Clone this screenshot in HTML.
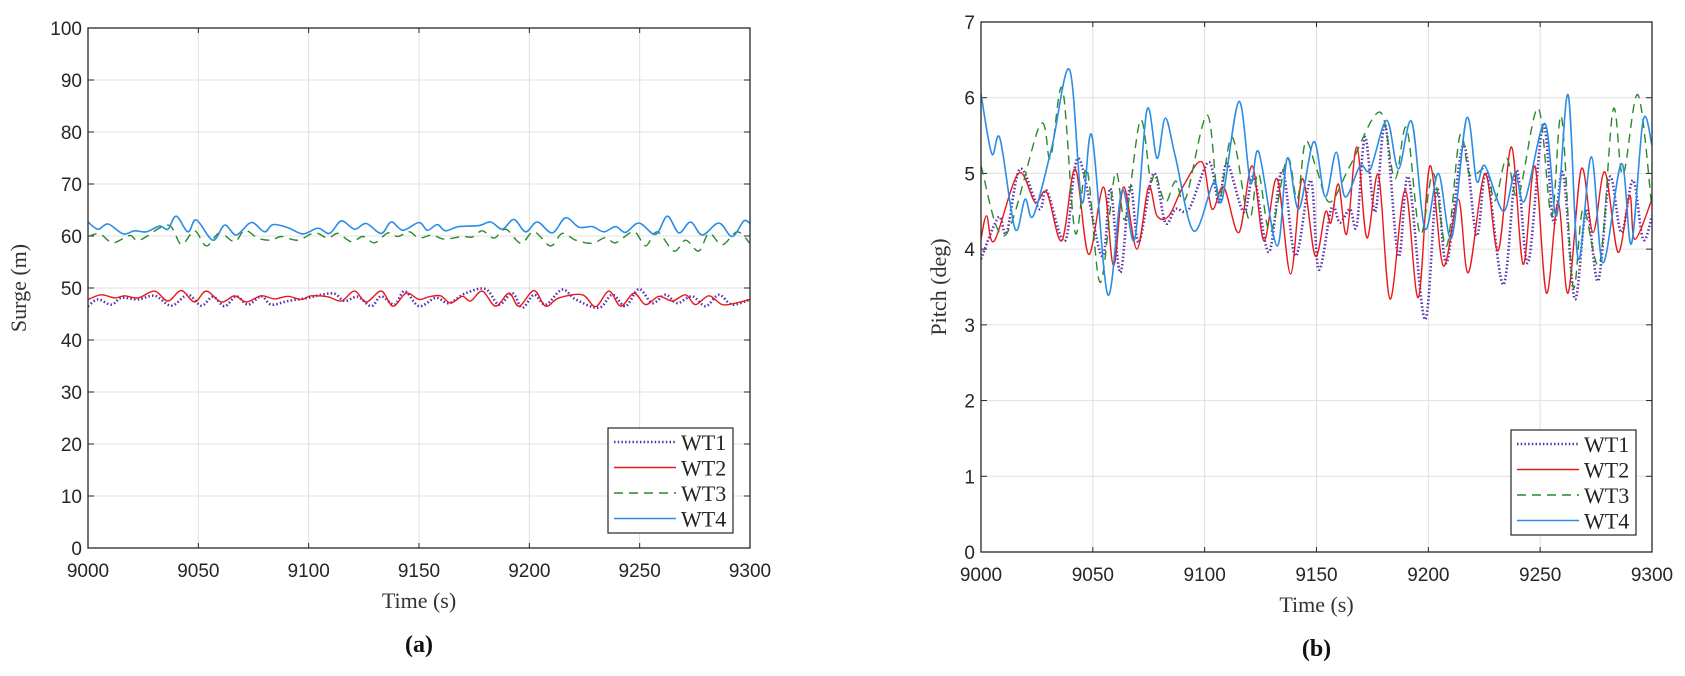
<!DOCTYPE html>
<html><head><meta charset="utf-8"><style>
body{margin:0;background:#fff;width:1685px;height:676px;overflow:hidden}
svg{display:block}
text{font-family:"Liberation Sans",sans-serif}
.ser{font-family:"Liberation Serif",serif}
</style></head><body>
<svg id="fig" width="1685" height="676"></svg>
<script>
// ---------- Surge data (a) ----------
const s1T=[0,4.5,10.6,15.1,22.7,30.2,37.8,45.3,51.3,56.6,61.9,67.2,72.5,78.5,83,90.6,99.7,105.7,111.7,116.3,122.3,128.4,132.9,138.9,143.5,150,157.6,163.6,171.1,180.2,186.2,192.3,196.8,202.1,207.4,214.9,221,231.5,237.6,243.6,249.7,255.7,261.7,267,273.8,279.9,285.9,291.9,300];
const s1V=[46.5,47.8,46.8,48.1,47.8,48.5,46.6,48.7,46.6,48.3,46.5,48.4,46.8,48.4,46.8,47.5,48.1,48.7,48.9,47.5,48.3,46.5,48.4,46.8,49.4,46.5,48.1,47.1,49.0,49.8,46.8,49.0,46.2,48.7,46.8,49.7,47.8,46.2,48.7,46.5,49.8,47.1,48.7,47.1,48.4,46.5,48.7,46.8,47.8];
const s2T=[0,6,12.1,16.6,22.7,30.2,36.2,42.3,48.3,53.6,60.4,66.4,71.7,78.5,84.6,90.6,96.6,101.2,108.7,114.8,120.8,126.1,132.9,138.2,144.2,150,154.5,159.8,164.3,169.6,173.4,178.7,184.7,190.8,195.3,202.1,207.4,213.4,224,230,236.1,241.4,247.4,252.7,258.7,264.8,270.8,275.3,281.4,287.4,293.5,300];
const s2V=[47.8,48.7,48.1,48.5,48.1,49.4,47.5,49.5,47.3,49.4,47.3,48.5,47.3,48.5,47.9,48.4,47.8,48.5,48.3,47.5,49.4,47.3,49.4,46.5,49.0,47.8,48.3,48.5,47.1,48.4,47.5,49.4,46.5,49.0,46.5,49.5,46.5,48.1,48.7,46.4,49.4,46.5,49.0,46.8,48.4,47.5,48.7,46.8,48.5,46.8,47.1,47.8];
const s3T=[0,5.3,11.3,18.9,23.4,36.2,42.3,48.3,53.6,59.6,66.4,71,77,83,87.6,95.1,102.7,108.7,113.3,119.3,124.6,129.9,135.9,140.4,145.7,150,156,161.3,169.6,174.2,178.7,184,189.3,196.1,202.1,209.6,214.9,221,228.5,234.6,239.1,247.4,252.7,258,265.5,270.8,276.8,281.4,287.4,294.2,300];
const s3V=[59.9,60.4,58.7,60.1,59.2,62.1,58.4,61.0,58.1,60.6,58.9,61.1,59.6,59.2,59.9,59.2,60.6,59.6,60.5,58.9,59.9,58.7,60.6,59.9,60.8,59.6,60.2,59.4,59.9,59.8,61.0,59.6,61.3,58.6,60.8,58.1,60.5,59.2,58.6,59.7,58.7,60.8,58.1,60.8,57.1,59.2,57.1,60.5,58.3,60.8,58.6];
const s4T=[0,4.5,9.1,15.9,21.1,26.4,32.5,36.2,40,45.3,49.1,56.6,61.9,67.2,74,80,83.8,90.6,97.4,104.2,109.5,114.8,120.8,126.1,132.9,137.4,142.7,150,153.8,158.3,162,168,177.2,182.5,187.8,193,198.3,203.6,210.4,216.4,222.5,228.5,233.8,239.1,243.6,249.7,257.2,262.5,267.8,273.1,278.4,285.9,291.9,297.2,300];
const s4V=[62.7,61.3,62.3,60.4,61.0,60.8,61.9,61.3,63.8,60.8,63.1,59.2,62.1,60.2,62.6,60.8,62.2,61.6,60.4,61.5,60.5,62.9,61.3,62.4,60.5,62.7,61.1,62.6,61.1,62.2,61.0,61.8,62.0,62.7,61.3,63.2,60.8,62.7,60.6,63.5,61.7,61.8,60.8,61.8,60.7,62.5,60.3,63.8,60.6,62.7,60.2,62.5,59.9,62.9,62.4];
// ---------- Pitch data (b) ----------
const p1T=[0,7.8,11.5,17.5,26,29.4,37.6,43.6,54,57.8,62.3,66.7,70.5,77.2,82.4,87,93,101.8,106.3,110,117.5,122,128.7,134.7,140.6,147.4,151,156.8,160.5,165,168,171.7,176.2,180.7,186.6,191.1,198.5,203.7,208.2,215.6,221.6,226,233.5,239.4,244.6,251.3,256,260.3,265.5,270.7,275.9,281.1,286.3,291.5,296,300];
const p1V=[3.87,4.42,4.22,5.06,4.53,4.77,4.11,5.2,3.91,4.8,3.69,4.84,4.09,5.0,4.35,4.53,4.53,5.15,4.62,5.13,4.49,4.95,3.96,5.04,3.91,4.91,3.73,4.55,4.35,4.53,4.31,5.48,4.49,5.64,3.91,4.95,3.07,4.8,3.82,5.37,4.18,5.0,3.53,5.04,3.82,5.64,4.35,5.0,3.34,4.53,3.58,4.95,4.22,4.91,4.13,4.44];
const p2T=[0,2.5,6,16.7,24.2,29.4,36.1,42.1,48.1,54.8,59.3,63.7,69.7,74.9,78.7,84,90.6,98.8,103.3,108.5,115.3,121.2,126.5,132.4,138.4,143.6,149.4,154,156.5,159.8,163.5,168,172.5,177.7,182.9,189.6,195.5,200.7,206.7,213.4,217.9,225.3,231.2,237.2,242.4,247.6,252.8,258,262.5,268.4,273.6,278.9,284.8,290,292.3,300];
const p2V=[4.13,4.44,4.11,5.0,4.62,4.75,4.11,5.06,3.93,4.82,3.78,4.82,4.0,4.82,4.44,4.44,4.84,5.15,4.53,4.82,4.22,5.1,4.11,4.93,3.67,4.93,3.91,4.49,4.35,4.86,4.2,5.35,4.15,4.98,3.34,4.78,3.36,5.1,3.78,4.66,3.69,5.0,3.98,5.35,3.8,5.1,3.42,4.62,3.42,5.06,4.22,5.02,3.96,4.71,4.13,4.66];
const p3T=[0,10.7,26.4,31,36.4,42.1,47.3,53.3,60,64.5,71.2,75.7,78,82.4,87,91.4,101.1,106.3,112.3,119.7,124,129.4,136.9,141.4,145.1,150,156,165,178.4,185,190.3,196.3,202.2,208.2,214.1,218.6,226,229.8,235,240.2,249.1,255.1,259.5,264.7,269.2,276.6,282.6,287,293.7,300];
const p3V=[5.1,4.18,5.64,5.2,6.12,4.22,5.06,3.56,5.0,4.4,5.7,4.93,5.0,4.62,4.9,4.66,5.77,4.66,5.48,4.4,5.0,4.22,5.2,4.66,5.42,5.06,4.62,5.1,5.81,4.93,5.6,4.2,5.0,4.04,5.5,4.98,5.06,4.64,5.2,4.7,5.86,4.44,5.75,3.51,4.53,3.82,5.84,4.98,6.04,4.53];
const p4T=[0,4.8,8.5,15.2,19.7,23.4,31.7,39.6,45.1,49.6,56.7,63,68.7,74.2,78.7,82.4,86.9,95.1,104,107.8,115.3,120.5,124.2,132.4,136.9,142.1,148.8,153.9,158.8,162.8,169.5,174,181.4,186.6,192.6,198.5,204.5,210.4,217.1,221.6,225.3,233.5,238.7,243.1,252.1,257.3,262.5,267,272.9,278.1,286.3,290.8,296,300];
const p4V=[6.05,5.26,5.46,4.27,4.66,4.44,5.35,6.37,4.62,5.5,3.4,4.77,4.13,5.84,5.2,5.73,5.22,4.24,4.88,4.65,5.95,4.88,5.28,4.04,5.2,4.53,5.42,4.69,5.28,4.69,5.1,5.05,5.7,5.06,5.68,4.27,5.0,4.15,5.73,4.9,5.1,4.5,5.0,4.64,5.66,4.44,6.04,3.87,5.22,3.82,5.13,4.07,5.7,5.37];
const xTicks=[9000,9050,9100,9150,9200,9250,9300];
const surgeTicks=[0,10,20,30,40,50,60,70,80,90,100];
const pitchTicks=[0,1,2,3,4,5,6,7];
const names=['WT1','WT2','WT3','WT4'];

const NS='http://www.w3.org/2000/svg';
const fig=document.getElementById('fig');
function mk(tag,attrs,parent){const e=document.createElementNS(NS,tag);for(const k in attrs)e.setAttribute(k,attrs[k]);(parent||fig).appendChild(e);return e;}
const styles=[
 {stroke:'#5b2fb0',w:2.6,dash:'1.5 2.2'},
 {stroke:'#e8191c',w:1.4,dash:''},
 {stroke:'#2a8a2a',w:1.4,dash:'9 6'},
 {stroke:'#2b8de6',w:1.6,dash:''}];
function spline(pts){
 let d='M'+pts[0][0].toFixed(1)+','+pts[0][1].toFixed(1);
 for(let i=0;i<pts.length-1;i++){
  const p0=pts[Math.max(0,i-1)],p1=pts[i],p2=pts[i+1],p3=pts[Math.min(pts.length-1,i+2)];
  const c1=[p1[0]+(p2[0]-p0[0])/6,p1[1]+(p2[1]-p0[1])/6];
  const c2=[p2[0]-(p3[0]-p1[0])/6,p2[1]-(p3[1]-p1[1])/6];
  d+='C'+c1[0].toFixed(1)+','+c1[1].toFixed(1)+' '+c2[0].toFixed(1)+','+c2[1].toFixed(1)+' '+p2[0].toFixed(1)+','+p2[1].toFixed(1);
 }
 return d;
}
function panel(cfg){
 const {x0,x1,y0,y1,ymax,yTicks,series,ylabel,ylx,tag,leg,pname}=cfg;
 const g=mk('g',{});
 
 
 const sx=t=>x0+(t)/300*(x1-x0);
 const sy=v=>y1-v/ymax*(y1-y0);
 xTicks.forEach(t=>{
  const x=sx(t-9000);
  const l=mk('line',{x1:x,x2:x,y1:y0,y2:y1,stroke:'#e0e0e0','stroke-width':1},g);
  
  
  mk('line',{x1:x,x2:x,y1:y1,y2:y1-5,stroke:'#262626'},g);
  mk('line',{x1:x,x2:x,y1:y0,y2:y0+5,stroke:'#262626'},g);
  const tx=mk('text',{x:x,y:y1+29,'text-anchor':'middle','font-size':19,fill:'#262626'},g);
  tx.textContent=t;
  
  
 });
 yTicks.forEach(v=>{
  const y=sy(v);
  const l=mk('line',{x1:x0,x2:x1,y1:y,y2:y,stroke:'#e0e0e0','stroke-width':1},g);
  
  
  mk('line',{x1:x0,x2:x0+6,y1:y,y2:y,stroke:'#262626'},g);
  mk('line',{x1:x1,x2:x1-6,y1:y,y2:y,stroke:'#262626'},g);
  const tx=mk('text',{x:x0-6,y:y+7,'text-anchor':'end','font-size':19,fill:'#262626'},g);
  tx.textContent=v;
  
  
 });
 const clip='c'+pname;
 const cp=mk('clipPath',{id:clip},g);mk('rect',{x:x0,y:y0,width:x1-x0,height:y1-y0},cp);
 series.forEach((s,i)=>{
  const pts=s[0].map((t,j)=>[sx(t),sy(s[1][j])]);
  const st=styles[i];
  const p=mk('path',{d:spline(pts),fill:'none',stroke:st.stroke,'stroke-width':st.w,'stroke-dasharray':st.dash,'clip-path':'url(#'+clip+')'},g);
  
  
 });
 const box=mk('rect',{x:x0,y:y0,width:x1-x0,height:y1-y0,fill:'none',stroke:'#262626','stroke-width':1.3},g);
 
 
 const xl=mk('text',{x:(x0+x1)/2,y:y1+60,'text-anchor':'middle','font-size':22,fill:'#333',class:'ser'},g);
 xl.textContent='Time (s)';
 
 
 const yc=(y0+y1)/2;
 const yl=mk('text',{x:ylx,y:yc,'text-anchor':'middle','font-size':22,fill:'#333',class:'ser',transform:'rotate(-90 '+ylx+' '+yc+')'},g);
 yl.textContent=ylabel;
 
 
 const lg=mk('g',{},g);
 
 
 mk('rect',{x:leg[0],y:leg[1],width:125,height:105,fill:'#fff',stroke:'#262626','stroke-width':1.2},lg);
 names.forEach((n,i)=>{
  const y=leg[1]+14+i*25.5;
  const st=styles[i];
  mk('line',{x1:leg[0]+6,x2:leg[0]+68,y1:y,y2:y,stroke:st.stroke,'stroke-width':st.w,'stroke-dasharray':st.dash},lg);
  const t=mk('text',{x:leg[0]+73,y:y+8,'font-size':22,fill:'#222',class:'ser'},lg);
  t.textContent=n;
  
  
 });
 const tg=mk('text',{x:(x0+x1)/2,y:y1+104,'text-anchor':'middle','font-size':24,'font-weight':'bold',fill:'#111',class:'ser'},g);
 tg.innerHTML='(<tspan font-weight="bold">'+tag+'</tspan>)';
 
 
}
panel({pname:'surge-chart',x0:88,x1:750,y0:28,y1:548,ymax:100,yTicks:surgeTicks,series:[[s1T,s1V],[s2T,s2V],[s3T,s3V],[s4T,s4V]],ylabel:'Surge (m)',ylx:26,tag:'a',leg:[608,428]});
panel({pname:'pitch-chart',x0:981,x1:1652,y0:22,y1:552,ymax:7,yTicks:pitchTicks,series:[[p1T,p1V],[p2T,p2V],[p3T,p3V],[p4T,p4V]],ylabel:'Pitch (deg)',ylx:946,tag:'b',leg:[1511,430]});
</script>
</body></html>
